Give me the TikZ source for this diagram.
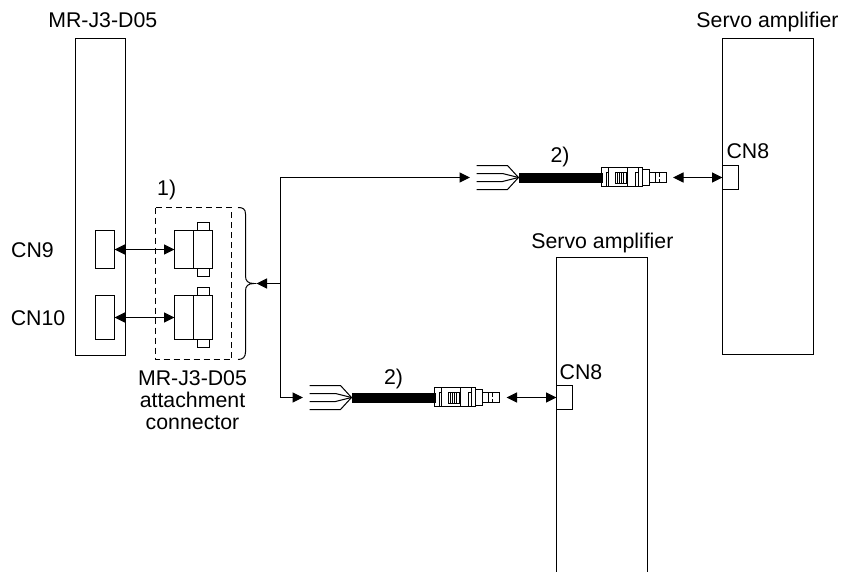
\documentclass[tikz,border=0pt]{standalone}
\usepackage{fontspec}
\setmainfont{Liberation Sans}
\usepackage{tikz}
\usetikzlibrary{arrows.meta,positioning}

\tikzset{
  pics/cable/.style={code={
    % wires
    \draw (-42,-12) -- (-11,-12) -- (0,0);
    \draw (-42,-4) -- (-16,-4) -- (0,0);
    \draw (-42,4) -- (-16,4) -- (0,0);
    \draw (-42,12) -- (-11,12) -- (0,0);
    \fill (0,-5) rectangle (84,5);
    % plug
    \draw (83,-10) rectangle (124,9);
    \draw (90,-10) -- (90,9);
    \draw (109,-10) -- (109,9);
    \draw (120,-10) -- (120,9);
    \draw (88,9) -- (88,-5) -- (90,-5);
    \draw (117,9) -- (117,-5) -- (120,-5);
    \draw (97,-5) rectangle (108,6);
    \foreach \xhatch in {99,101,103,105}
      \draw (\xhatch,-5) -- (\xhatch,6);
    \draw (124,-8) -- (131,-8) -- (131,8) -- (124,8);
    \draw (131,-5) -- (137,-5) (131,5) -- (137,5);
    \draw (137,-5) rectangle (148,5);
    \draw (141,-5) -- (141,-1) (141,5) -- (141,1);
  }},
  every path/.style={line width=1pt},
  unit/.style={draw, anchor=north west, inner sep=0pt, outer sep=0pt},
  lbl/.style={inner sep=0pt, anchor=base, align=center, font=\fontsize{21.3}{21.7}\selectfont},
  arrow/.style={-{Triangle[length=10.5pt,width=10pt]}},
  biarrow/.style={{Triangle[length=10.5pt,width=10pt]}-{Triangle[length=10.5pt,width=10pt]}}
}

\begin{document}
\begin{tikzpicture}[x=1pt,y=-1pt]
\useasboundingbox (0,0) rectangle (852,571);
% units
\node[unit, minimum width=50pt, minimum height=317pt] (d05) at (75.5,38.5) {};
\node[unit, minimum width=91pt, minimum height=316pt] (amp1) at (722.5,38.5) {};
\draw (556.5,572) |- (647.5,257.5) -- (647.5,572);
\coordinate (amp2w) at (556.5,397.5);
% ports
\node[unit, minimum width=19pt, minimum height=38pt] (cn9) at (95.5,230.5) {};
\node[unit, minimum width=19pt, minimum height=44pt] (cn10) at (95.5,295.5) {};
\node[unit, minimum width=16pt, minimum height=24pt] (cn8a) at (722.5,165.5) {};
\node[unit, minimum width=16pt, minimum height=24pt] (cn8b) at (556.5,385.5) {};
% attachment connector
\draw[dash pattern=on 6pt off 4pt] (155.5,207.5) rectangle (231.5,359.5);
\node[unit, minimum width=12pt, minimum height=54pt] (taba) at (197.5,222.5) {};
\node[unit, minimum width=12pt, minimum height=60pt] (tabb) at (197.5,287.5) {};
\node[unit, fill=white, minimum width=19pt, minimum height=38pt] (conaback) at (193.5,230.5) {};
\node[unit, fill=white, minimum width=19pt, minimum height=44pt] (conbback) at (193.5,295.5) {};
\node[unit, fill=white, minimum width=19pt, minimum height=38pt] (cona) at (174.5,230.5) {};
\node[unit, fill=white, minimum width=19pt, minimum height=44pt] (conb) at (174.5,295.5) {};
% brace
\draw (238,207.5) .. controls (243,207.5) and (245.5,209) .. (245.5,214) -- (245.5,276)
  .. controls (245.5,281) and (248,283.5) .. (254,283.5)
  .. controls (248,283.5) and (245.5,286) .. (245.5,291) -- (245.5,352)
  .. controls (245.5,357) and (243,359.5) .. (238,359.5);
\coordinate (bracetip) at (256.5,283.5);
\coordinate (trunk) at (280.5,283.5);
% cables
\pic at (518.5,177.5) {cable};
\pic at (351.5,397.5) {cable};
\coordinate (wiresa) at (470,177.5);
\coordinate (wiresb) at (303,397.5);
\coordinate (pluga) at (673,177.5);
\coordinate (plugb) at (506.5,397.5);
% connectors
\draw[biarrow] (cn9.east) -- (cona.west);
\draw[biarrow] (cn10.east) -- (conb.west);
\draw[arrow] (trunk) -- (bracetip);
\draw[arrow] (trunk) |- (wiresa);
\draw[arrow] (trunk) |- (wiresb);
\draw[biarrow] (pluga) -- (cn8a.west);
\draw[biarrow] (plugb) -- (cn8b.west);
% labels
\node[lbl] (d05lbl) at (102.8,27.7) {MR-J3-D05};
\node[lbl] (amp1lbl) at (767.5,27.7) {Servo amplifier};
\node[lbl] (amp2lbl) at (602.4,248.5) {Servo amplifier};
\node[lbl] (cn9lbl) at (32.5,257.7) {CN9};
\node[lbl] (cn10lbl) at (38,325.7) {CN10};
\node[lbl] (cn8albl) at (747.8,158.3) {CN8};
\node[lbl] (cn8blbl) at (581,379) {CN8};
\node[lbl] (onelbl) at (166.7,195) {1)};
\node[lbl] (twoalbl) at (560,162) {2)};
\node[lbl] (twoblbl) at (393.5,384) {2)};
\node[lbl] (attlbl) at (192.5,429.1) {MR-J3-D05\\attachment\\connector};
\end{tikzpicture}
\end{document}
